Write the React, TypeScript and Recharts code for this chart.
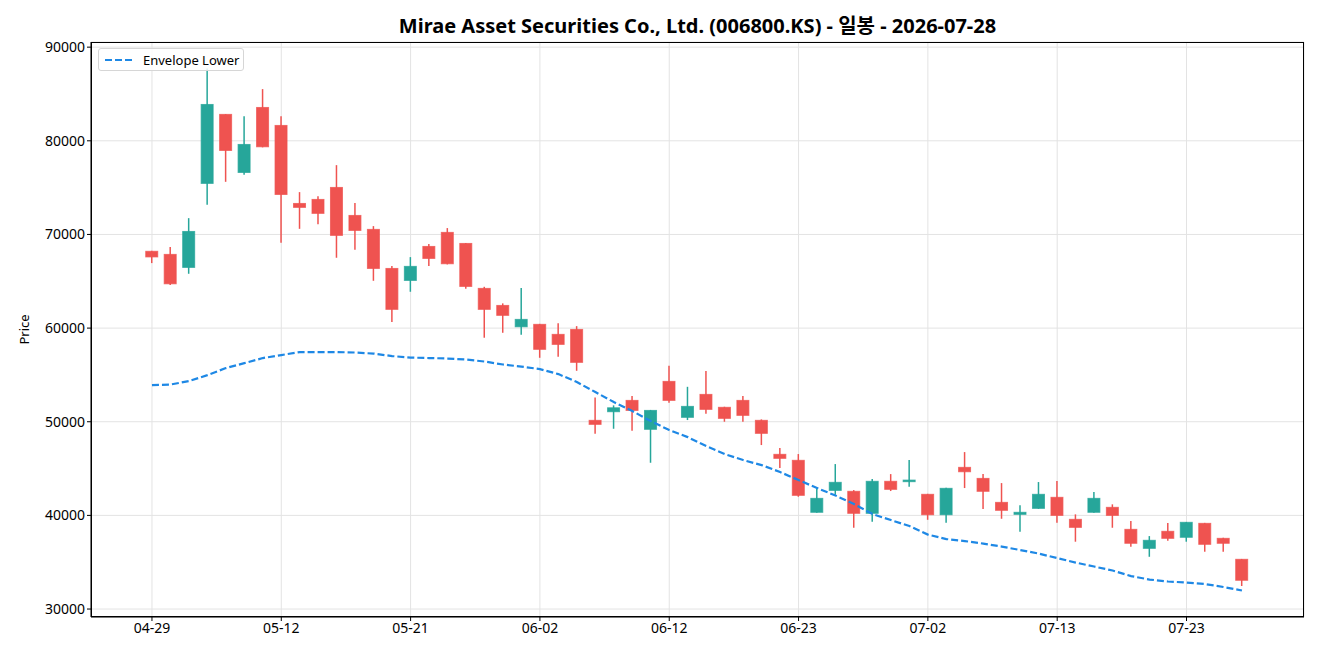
import React from 'react'
import { ComposedChart, Bar, Line, XAxis, YAxis, CartesianGrid } from 'recharts'

const dates = ['04-29','04-30','05-04','05-06','05-07','05-08','05-11','05-12','05-13','05-14','05-15','05-18','05-19','05-20','05-21','05-22','05-26','05-27','05-28','05-29','06-01','06-02','06-04','06-05','06-08','06-09','06-10','06-11','06-12','06-15','06-16','06-17','06-18','06-19','06-22','06-23','06-24','06-25','06-26','06-29','06-30','07-01','07-02','07-03','07-06','07-07','07-08','07-09','07-10','07-13','07-14','07-15','07-16','07-20','07-21','07-22','07-23','07-24','07-27','07-28']

const openP = [
  68200, 67870, 66480, 75450, 82820, 76620, 83560, 81640, 73310, 73740,
  75020, 72030, 70540, 66370, 65090, 68720, 70220, 69040, 64240, 62420,
  60140, 60400, 59330, 59860, 50150, 51070, 52280, 49190, 54310, 50470,
  52920, 51540, 52280, 50150, 46520, 45880, 40330, 42670, 42570, 40220,
  43640, 43600, 42250, 40070, 45130, 43950, 41390, 40110, 40750, 41930,
  39580, 40330, 40860, 38510, 36480, 38300, 37660, 39150, 37550, 35310,
]
const closeP = [
  67600, 64730, 70320, 83880, 78970, 79610, 79360, 74270, 72890, 72250,
  69900, 70430, 66370, 62000, 66590, 67440, 66870, 64450, 62000, 61360,
  60930, 57730, 58260, 56340, 49720, 51490, 51210, 51210, 52280, 51640,
  51320, 50360, 50680, 48760, 46090, 42140, 41820, 43530, 40220, 43640,
  42780, 43770, 40070, 42890, 44660, 42570, 40540, 40330, 42250, 40000,
  38720, 41820, 40000, 37020, 37340, 37550, 39260, 36910, 37020, 33070,
]
const highP = [
  68250, 68650, 71740, 87730, 82850, 82630, 85520, 82630, 74520, 74090,
  77400, 73350, 70890, 66620, 67580, 68970, 70680, 69100, 64410, 62640,
  64270, 60450, 60530, 60210, 52600, 51750, 52740, 51260, 55980, 53730,
  55410, 51600, 52740, 50250, 47190, 46550, 42920, 45480, 42700, 43880,
  44410, 45910, 42300, 42950, 46760, 44410, 43450, 41070, 43560, 43670,
  40110, 42490, 41180, 39400, 37790, 39180, 39300, 39200, 37600, 35350,
]
const lowP = [
  66940, 64590, 65800, 73160, 75620, 76370, 79300, 69110, 70600, 71100,
  67510, 68360, 65050, 60640, 63880, 66620, 66800, 64200, 58970, 59500,
  59290, 56830, 56940, 55440, 48720, 49250, 49040, 45620, 52030, 50180,
  50850, 50000, 50000, 47510, 45050, 41990, 40290, 42200, 38680, 39320,
  42600, 43060, 39530, 39220, 42920, 40680, 39640, 38250, 40700, 39220,
  37190, 40280, 38680, 36650, 35580, 37290, 37190, 36120, 36120, 32460,
]
const envLower = [
  53920, 53970, 54340, 54980, 55730, 56260, 56800, 57120, 57440, 57440,
  57440, 57390, 57280, 57010, 56850, 56800, 56750, 56640, 56430, 56110,
  55890, 55620, 55090, 54240, 53170, 52100, 51140, 50070, 49110, 48360,
  47400, 46550, 45910, 45370, 44630, 43770, 42920, 42120, 41210, 40140,
  39500, 38860, 37950, 37470, 37260, 36990, 36670, 36300, 35920, 35440,
  34960, 34540, 34110, 33520, 33150, 32940, 32830, 32670, 32350, 31980,
]

const xTicks = [0, 7, 14, 21, 28, 35, 42, 49, 56]
const yTicks = [30000, 40000, 50000, 60000, 70000, 80000, 90000]

const data = dates.map((d, i) => ({
  i,
  date: d,
  open: openP[i],
  close: closeP[i],
  high: highP[i],
  low: lowP[i],
  range: [lowP[i], highP[i]],
  env: envLower[i],
}))

const UP = '#26a69a'
const DOWN = '#ef5350'
const FONT = '"Noto Sans", "Noto Sans CJK KR", sans-serif'

function Candle(props: any) {
  const { x, y, width, height, payload } = props
  if (!payload) return null
  const { open, close, high, low } = payload
  const yTop = Math.min(y, y + height)
  const yBot = Math.max(y, y + height)
  const ratio = (yBot - yTop) / (high - low)
  const py = (v: number) => yTop + (high - v) * ratio
  const cx = x + width / 2
  const color = close >= open ? UP : DOWN
  const bTop = py(Math.max(open, close))
  const bBot = py(Math.min(open, close))
  return (
    <g>
      <line x1={cx} x2={cx} y1={yTop} y2={yBot} stroke={color} strokeWidth={1.5} />
      <rect x={cx - 6} y={bTop} width={12} height={Math.max(bBot - bTop, 1.5)} fill={color} stroke={color} strokeOpacity={0.75} strokeWidth={1} />
    </g>
  )
}

export default function App() {
  return (
    <div style={{ position: 'absolute', left: 0, top: 0, width: 1320, height: 660, background: '#fff', fontFamily: FONT }}>
      <div style={{ position: 'absolute', top: 11, left: 91, width: 1213, textAlign: 'center', fontSize: 20, lineHeight: '30px', fontWeight: 700, color: '#000', whiteSpace: 'nowrap' }}>
        Mirae Asset Securities Co., Ltd. (006800.KS) - 일봉 - 2026-07-28
      </div>
      <ComposedChart width={1320} height={660} data={data} margin={{ top: 42, right: 16, bottom: 13, left: 0 }}>
        <CartesianGrid stroke="#e3e3e3" strokeWidth={1} />
        <XAxis
          dataKey="i"
          type="number"
          domain={[-3.3, 62.36]}
          ticks={xTicks}
          tickFormatter={(v: number) => dates[v]}
          allowDataOverflow
          height={30}
          tick={{ fontSize: 14, fill: '#000', fontFamily: FONT }}
          tickSize={4}
          tickLine={{ stroke: '#000' }}
          axisLine={{ stroke: '#000' }}
        />
        <YAxis
          type="number"
          domain={[29150, 90550]}
          ticks={yTicks}
          allowDataOverflow
          width={91}
          tick={{ fontSize: 14, fill: '#000', fontFamily: FONT }}
          tickSize={4}
          tickLine={{ stroke: '#000' }}
          axisLine={{ stroke: '#000' }}
          label={(p: any) => {
            const vb = p.viewBox || { x: 0, y: 42, height: 575 }
            const lx = vb.x + 24
            const ly = vb.y + vb.height / 2
            return (
              <text x={lx} y={ly} transform={`rotate(-90 ${lx} ${ly})`} textAnchor="middle" dominantBaseline="central" fontSize={13} fill="#000" fontFamily={FONT}>
                Price
              </text>
            )
          }}
        />
        <Bar dataKey="range" barSize={12} shape={Candle} isAnimationActive={false} />
        <Line dataKey="env" type="linear" stroke="#1e88e5" strokeWidth={2.2} strokeDasharray="7 3" dot={false} activeDot={false} isAnimationActive={false} />
      </ComposedChart>
      <div style={{ position: 'absolute', left: 91, top: 42, width: 1213, height: 575, border: '1px solid #000', boxSizing: 'border-box', pointerEvents: 'none' }} />
      <div style={{ position: 'absolute', left: 98, top: 48, width: 146, height: 23, border: '1px solid #d6d6d6', borderRadius: 3, background: 'rgba(255,255,255,0.85)', boxSizing: 'border-box', display: 'flex', alignItems: 'center', fontSize: 13, color: '#000', whiteSpace: 'nowrap' }}>
        <svg width={40} height={10} style={{ marginLeft: 4 }}>
          <line x1={2} x2={32} y1={5} y2={5} stroke="#1e88e5" strokeWidth={2.2} strokeDasharray="7 3" />
        </svg>
        <span>Envelope Lower</span>
      </div>
    </div>
  )
}
